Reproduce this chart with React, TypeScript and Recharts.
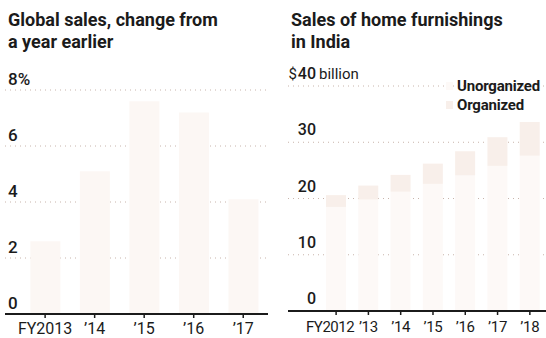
import React from 'react';
import { BarChart, Bar, XAxis, YAxis, CartesianGrid } from 'recharts';

// Left panel: global sales, % change from a year earlier (values faded in print, estimated)
const globalYears = [2013, 2014, 2015, 2016, 2017];
const globalChange = [2.6, 5.1, 7.6, 7.2, 4.1];
const globalTicks = [0, 2, 4, 6, 8];

// Right panel: home furnishings sales in India, $ billion (estimated)
const indiaYears = [2012, 2013, 2014, 2015, 2016, 2017, 2018];
const unorganized = [18.5, 19.8, 21.2, 22.6, 24.1, 25.8, 27.6];
const organized = [2.1, 2.5, 3.0, 3.6, 4.3, 5.1, 6.0];
const indiaTicks = [0, 10, 20, 30, 40];

const indiaSeries = [
  { key: 'unorganized', name: 'Unorganized', fill: '#fdf9f7' },
  { key: 'organized', name: 'Organized', fill: '#f8efea' },
];

const yearLabel = (y: number, first: number) =>
  y === first ? `FY${y}` : `\u2019${String(y).slice(2)}`;

const globalData = globalYears.map((year, i) => ({ year, change: globalChange[i] }));
const indiaData = indiaYears.map((year, i) => ({
  year,
  unorganized: unorganized[i],
  organized: organized[i],
}));

const INK = '#1b1b1b';
const GRID = '#c8b4ab';

const LeftTick = (props: any) => {
  const { y, payload } = props;
  return (
    <text x={8} y={y - 5} fill={INK} fontSize={17} fontWeight={500} textAnchor="start">
      {payload.value === 8 ? '8%' : payload.value}
    </text>
  );
};

// x values are in the right chart's own svg coordinates (it starts at page x 273)
const RightTick = (props: any) => {
  const { y, payload } = props;
  const top = payload.value === 40;
  return (
    <g>
      {top && (
        <text x={24} y={y - 7} fill={INK} fontSize={15} textAnchor="end">$</text>
      )}
      <text x={43} y={y - 7} fill={INK} fontSize={16} fontWeight={500} textAnchor="end">
        {payload.value}
      </text>
      {top && (
        <text x={46} y={y - 7} fill={INK} fontSize={15} textAnchor="start">billion</text>
      )}
    </g>
  );
};

// first year label on the right is pushed left so it clears the next one
const IndiaYearTick = (props: any) => {
  const { x, y, payload } = props;
  const first = payload.value === indiaYears[0];
  return (
    <text
      x={first ? x + 18 : x}
      y={y + 13}
      fill={INK}
      fontSize={15}
      letterSpacing={first ? -0.5 : -0.3}
      textAnchor={first ? 'end' : 'middle'}
    >
      {yearLabel(payload.value, indiaYears[0])}
    </text>
  );
};

const titleStyle: React.CSSProperties = {
  position: 'absolute',
  top: 9,
  fontSize: 18,
  fontWeight: 700,
  lineHeight: '22px',
  color: INK,
  whiteSpace: 'nowrap',
};

export default function App() {
  return (
    <div
      style={{
        position: 'relative',
        width: 546,
        height: 338,
        background: '#fff',
        fontFamily: 'Roboto, sans-serif',
        overflow: 'hidden',
      }}
    >
      <style>{'body{margin:0}'}</style>
      <div style={{ ...titleStyle, left: 8 }}>
        Global sales, change from
        <br />a year earlier
      </div>
      <div style={{ ...titleStyle, left: 291 }}>
        Sales of home furnishings
        <br />in India
      </div>

      <div style={{ position: 'absolute', left: 0, top: 0 }}>
        <BarChart
          width={273}
          height={338}
          data={globalData}
          margin={{ top: 90, right: 5, bottom: 0, left: 4 }}
        >
          <CartesianGrid vertical={false} stroke={GRID} strokeDasharray="1 4" />
          <XAxis
            dataKey="year"
            type="number"
            domain={[2012.19, 2017.5]}
            ticks={globalYears}
            interval={0}
            tickFormatter={(v: number) => yearLabel(v, globalYears[0])}
            height={24}
            axisLine={{ stroke: INK, strokeWidth: 2 }}
            tickLine={{ stroke: INK, strokeWidth: 1.5 }}
            tickSize={4}
            tickMargin={5}
            tick={{ fill: INK, fontSize: 16 }}
          />
          <YAxis
            domain={[0, 8]}
            ticks={globalTicks}
            interval={0}
            width={1}
            axisLine={false}
            tickLine={false}
            tick={<LeftTick />}
          />
          <Bar dataKey="change" fill="#fcf7f4" barSize={30} isAnimationActive={false} />
        </BarChart>
      </div>

      <div style={{ position: 'absolute', left: 273, top: 0 }}>
        <BarChart
          width={273}
          height={338}
          data={indiaData}
          margin={{ top: 86, right: 0, bottom: 0, left: 14 }}
        >
          <CartesianGrid vertical={false} stroke={GRID} strokeDasharray="1 4" />
          <XAxis
            dataKey="year"
            type="number"
            domain={[2010.51, 2018.5]}
            ticks={indiaYears}
            interval={0}
            height={27}
            axisLine={{ stroke: INK, strokeWidth: 2 }}
            tickLine={{ stroke: INK, strokeWidth: 1.5 }}
            tickSize={4}
            tickMargin={4}
            tick={<IndiaYearTick />}
          />
          <YAxis
            domain={[0, 40]}
            ticks={indiaTicks}
            interval={0}
            width={1}
            axisLine={false}
            tickLine={false}
            tick={<RightTick />}
          />
          {indiaSeries.map((s) => (
            <Bar
              key={s.key}
              dataKey={s.key}
              name={s.name}
              stackId="a"
              fill={s.fill}
              barSize={20}
              isAnimationActive={false}
            />
          ))}
        </BarChart>
      </div>

      {/* legend, top right of the India panel */}
      <div style={{ position: 'absolute', left: 446, top: 76 }}>
        {indiaSeries.map((s) => (
          <div
            key={s.key}
            style={{
              display: 'flex',
              alignItems: 'center',
              fontWeight: 700,
              fontSize: 15,
              color: INK,
              height: 19,
              letterSpacing: -0.2,
              whiteSpace: 'nowrap',
            }}
          >
            <span style={{ width: 7, height: 8, background: s.fill, marginRight: 4 }} />
            {s.name}
          </div>
        ))}
      </div>
    </div>
  );
}
